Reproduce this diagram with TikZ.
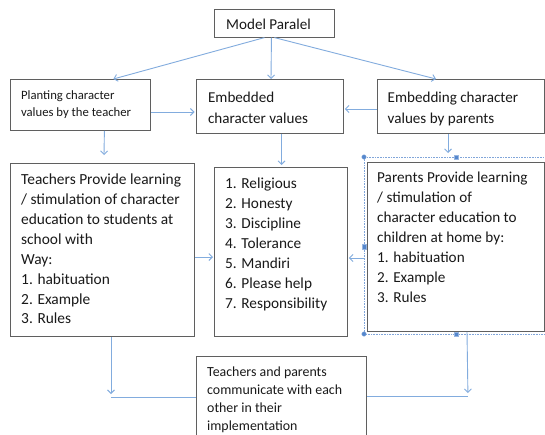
\documentclass[tikz,border=0pt]{standalone}
\usepackage{fontspec}
\setmainfont{Carlito}
\usetikzlibrary{arrows.meta,calc}
\definecolor{boxgray}{RGB}{95,95,95}
\definecolor{arrblue}{RGB}{130,172,222}
\definecolor{selblue}{RGB}{85,135,205}
\definecolor{txtcol}{RGB}{25,25,25}
\begin{document}
\begin{tikzpicture}[x=1pt,y=-1pt,
  box/.style={draw=boxgray,line width=0.9pt,inner sep=0pt,anchor=north west},
  txtnode/.style={inner sep=0pt,anchor=north west,align=left,text=txtcol},
  arr/.style={draw=arrblue,line width=0.9pt,-{Straight Barb[length=3.5pt,width=7pt]}},
  ln/.style={draw=arrblue,line width=0.9pt},
  sel/.style={draw=selblue!75,densely dotted,line width=0.6pt},
  handle/.style={fill=selblue,draw=selblue!60!white,line width=0.3pt},
]
\useasboundingbox (0,0) rectangle (545,434);
\fill[white] (0,0) rectangle (545,434);
\clip (0,0) rectangle (545,434);

% boxes
\node[box,minimum width=120pt,minimum height=28pt] (model) at (214,8.7) {};
\node[box,minimum width=140pt,minimum height=51pt] (plant) at (10.4,79) {};
\node[box,minimum width=147pt,minimum height=54pt] (emb) at (196,79) {};
\node[box,minimum width=167pt,minimum height=54pt] (embp) at (377,79) {};
\node[box,minimum width=184pt,minimum height=173pt] (teach) at (10,163) {};
\node[box,minimum width=133pt,minimum height=169pt] (vals) at (214,167) {};
\node[box,minimum width=177pt,minimum height=169.5pt] (par) at (367,161.5) {};
\node[box,minimum width=170pt,minimum height=95pt] (comm) at (196,356) {};

% texts
\node[txtnode,anchor=base west,font=\fontsize{15.1}{18}\selectfont] (modeltxt) at (226,29.6) {Model Paralel};
\node[txtnode,font=\fontsize{12.7}{17.4}\selectfont] (planttxt) at (20.9,86.8)
  {\strut Planting character\\values by the teacher};
\node[txtnode,font=\fontsize{15.1}{20.9}\selectfont] (embtxt) at (207.9,87.3)
  {\strut Embedded\\character values};
\node[txtnode,font=\fontsize{15.1}{20.9}\selectfont] (embptxt) at (387.5,87.3)
  {\strut Embedding character\\values by parents};
\node[txtnode,font=\fontsize{15.4}{19.86}\selectfont] (teachtxt) at (21,170.8)
  {\strut Teachers Provide learning\\/ stimulation of character\\education to students at\\school with\\Way:\\1. habituation\\2. Example\\3. Rules};
\node[txtnode,font=\fontsize{15.3}{20}\selectfont] (valstxt) at (225,174)
  {\strut 1. Religious\\2. Honesty\\3. Discipline\\4. Tolerance\\5. Mandiri\\6. Please help\\7. Responsibility};
\node[txtnode,font=\fontsize{15.2}{20}\selectfont] (partxt) at (377,168.3)
  {\strut Parents Provide learning\\/ stimulation of\\character education to\\children at home by:\\1. habituation\\2. Example\\3. Rules};
\node[txtnode,font=\fontsize{13.9}{18}\selectfont] (commtxt) at (207,363.3)
  {\strut Teachers and parents\\communicate with each\\other in their\\implementation};

% selection frame around the parents box
\draw[sel] (364,157) rectangle (552,334);
\fill[handle] (364,157) circle (2.3);
\fill[handle] (364,334) circle (2.3);
\filldraw[handle] (453.8,154.8) rectangle (458.2,159.2);
\filldraw[handle] (453.8,331.8) rectangle (458.2,336.2);
\filldraw[handle] (361.8,244.5) rectangle (366.2,248.9);

% connectors
\draw[arr] ($(model.south)+(-10,0)$) -- ($(plant.north west)+(103,0)$);
\draw[arr] ($(model.south)+(-3,0)$) -- ($(emb.north west)+(75,0)$);
\draw[arr] ($(model.south)+(0,0)$) -- ($(embp.north west)+(59,0)$);
\draw[arr] ($(plant.north east)+(0,33)$) -- ($(emb.north west)+(-1.5,33)$);
\draw[arr] ($(embp.north west)+(0,30)$) -- ($(emb.north east)+(1,30)$);
\draw[arr] ($(plant.south west)+(94,0)$) -- ($(teach.north west)+(94,-8)$);
\draw[arr] ($(emb.south west)+(85.5,0)$) -- ($(vals.north west)+(67.5,-2)$);
\draw[arr] ($(embp.south west)+(71,0)$) -- ($(par.north west)+(81,-8.5)$);
\draw[arr] ($(teach.north east)+(0,94)$) -- ($(vals.north west)+(-1,90)$);
\draw[arr] ($(par.north west)+(-2,96.5)$) -- ($(vals.north east)+(1,91)$);
\draw[arr] ($(teach.south west)+(101,0)$) -- ($(comm.north west)+(-85,38)$);
\draw[ln] ($(comm.north west)+(-85,41)$) -- ($(comm.north west)+(0,41)$);
\draw[arr] ($(par.south west)+(100,0)$) -- ($(comm.north east)+(101,37)$);
\draw[ln] ($(comm.north east)+(0,40)$) -- ($(comm.north east)+(101,40)$);
\end{tikzpicture}
\end{document}
